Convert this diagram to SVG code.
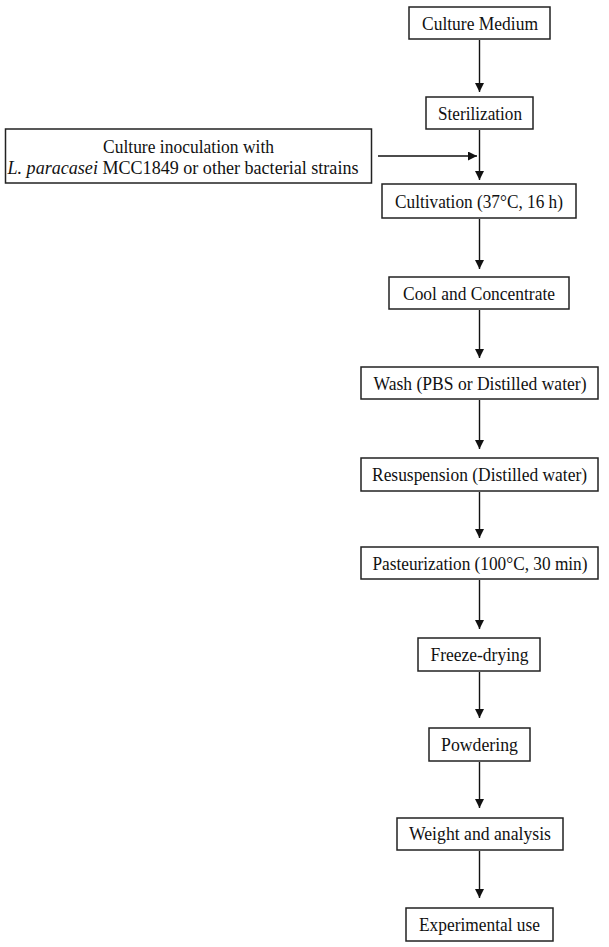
<svg xmlns="http://www.w3.org/2000/svg" width="609" height="947" viewBox="0 0 609 947">
<style>
.box{fill:#fff;stroke:#222;stroke-width:1.5}
.t{font-family:"Liberation Serif","Times New Roman",serif;font-size:18.5px;fill:#111;text-anchor:middle}
.c{stroke:#111;stroke-width:1.4;fill:none}
</style>
<defs>
<marker id="ah" viewBox="0 0 10 10" refX="10" refY="5" markerWidth="10" markerHeight="9" markerUnits="userSpaceOnUse" orient="auto">
<path d="M0,0 L10,5 L0,10 z" fill="#111"/>
</marker>
</defs>
<rect width="609" height="947" fill="#fff"/>
<g id="connectors">
<line class="c" x1="479.5" y1="40" x2="479.5" y2="92" marker-end="url(#ah)"/>
<line class="c" x1="479.5" y1="130" x2="479.5" y2="180" marker-end="url(#ah)"/>
<line class="c" x1="378" y1="156" x2="477" y2="156" stroke-width="2" marker-end="url(#ah)"/>
<line class="c" x1="479.5" y1="219" x2="479.5" y2="269" marker-end="url(#ah)"/>
<line class="c" x1="479.5" y1="310" x2="479.5" y2="358" marker-end="url(#ah)"/>
<line class="c" x1="479.5" y1="400" x2="479.5" y2="449" marker-end="url(#ah)"/>
<line class="c" x1="479.5" y1="492" x2="479.5" y2="538" marker-end="url(#ah)"/>
<line class="c" x1="479.5" y1="580" x2="479.5" y2="629" marker-end="url(#ah)"/>
<line class="c" x1="479.5" y1="672" x2="479.5" y2="718" marker-end="url(#ah)"/>
<line class="c" x1="479.5" y1="762" x2="479.5" y2="808" marker-end="url(#ah)"/>
<line class="c" x1="479.5" y1="851" x2="479.5" y2="898" marker-end="url(#ah)"/>
</g>
<g id="n-medium"><rect class="box" x="409" y="7" width="141" height="32"/><text class="t" x="480" y="29.5" textLength="116" lengthAdjust="spacingAndGlyphs">Culture Medium</text></g>
<g id="n-steril"><rect class="box" x="426" y="97" width="107" height="32"/><text class="t" x="480" y="119.5" textLength="84" lengthAdjust="spacingAndGlyphs">Sterilization</text></g>
<g id="n-inoc"><rect class="box" x="5.5" y="129" width="366" height="54"/>
<text class="t" x="188.5" y="152.5" textLength="171" lengthAdjust="spacingAndGlyphs">Culture inoculation with</text>
<text class="t" x="183" y="173.5" textLength="351" lengthAdjust="spacingAndGlyphs"><tspan font-style="italic">L. paracasei</tspan> MCC1849 or other bacterial strains</text></g>
<g id="n-cult"><rect class="box" x="382" y="184" width="194" height="34"/><text class="t" x="479" y="208" textLength="168" lengthAdjust="spacingAndGlyphs">Cultivation (37°C, 16 h)</text></g>
<g id="n-cool"><rect class="box" x="389" y="277" width="180" height="32"/><text class="t" x="479" y="299.5" textLength="152" lengthAdjust="spacingAndGlyphs">Cool and Concentrate</text></g>
<g id="n-wash"><rect class="box" x="361" y="367" width="237" height="32"/><text class="t" x="480" y="390" textLength="213" lengthAdjust="spacingAndGlyphs">Wash (PBS or Distilled water)</text></g>
<g id="n-resus"><rect class="box" x="361" y="458" width="237" height="33"/><text class="t" x="479.5" y="481" textLength="215" lengthAdjust="spacingAndGlyphs">Resuspension (Distilled water)</text></g>
<g id="n-past"><rect class="box" x="361" y="547" width="237" height="32"/><text class="t" x="480" y="569.5" textLength="215" lengthAdjust="spacingAndGlyphs">Pasteurization (100°C, 30 min)</text></g>
<g id="n-freeze"><rect class="box" x="418" y="638" width="122" height="33"/><text class="t" x="479.5" y="661" textLength="98" lengthAdjust="spacingAndGlyphs">Freeze-drying</text></g>
<g id="n-powder"><rect class="box" x="429" y="728" width="101" height="33"/><text class="t" x="479.5" y="751" textLength="77" lengthAdjust="spacingAndGlyphs">Powdering</text></g>
<g id="n-weight"><rect class="box" x="397" y="818" width="166" height="32"/><text class="t" x="480" y="839.5" textLength="142" lengthAdjust="spacingAndGlyphs">Weight and analysis</text></g>
<g id="n-exp"><rect class="box" x="406" y="908" width="147" height="33"/><text class="t" x="479.5" y="930.5" textLength="121" lengthAdjust="spacingAndGlyphs">Experimental use</text></g>
</svg>
